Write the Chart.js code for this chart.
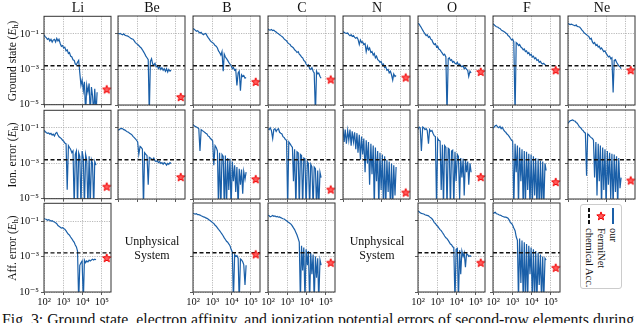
<!DOCTYPE html>
<html>
<head>
<meta charset="utf-8">
<script src="https://cdn.jsdelivr.net/npm/chart.js@4.4.1/dist/chart.umd.min.js"></script>
<style>
  html, body { margin: 0; padding: 0; background: #fff; }
  #fig { position: relative; width: 640px; height: 323px; overflow: hidden; font-family: 'Liberation Serif', 'DejaVu Serif', serif; color: #111; }
  #fig canvas { position: absolute; }
  .title { position: absolute; top: 0; font-size: 14px; line-height: 16px; transform: translateX(-50%); }
  .rowlab { position: absolute; font-size: 11.5px; white-space: nowrap; transform: translate(-50%, -50%) rotate(-90deg); }
  .rowlab sub { font-size: 8px; vertical-align: -2px; }
  .unphys { position: absolute; font-size: 12px; line-height: 14px; text-align: center; white-space: nowrap; transform: translate(-50%, -50%); }
  #legend { position: absolute; left: 580px; top: 204px; width: 42px; height: 85px; border: 1px solid #ccc; border-radius: 3px; box-sizing: border-box; }
  .legtxt { position: absolute; font-size: 10.5px; line-height: 12px; white-space: nowrap; transform-origin: 0 0; transform: rotate(90deg); }
  #caption { position: absolute; left: 2px; top: 312px; font-size: 15.8px; line-height: 16px; white-space: nowrap; }
</style>
</head>
<body>
<div id="fig">
  <div id="legend">
    <div style="position:absolute;left:31px;top:3px;width:1.5px;height:16px;background:#1a5fa8"></div>
    <canvas id="legStar" width="12" height="12" style="left:14px;top:5px"></canvas>
    <div style="position:absolute;left:7px;top:3px;width:1.5px;height:16px;background:repeating-linear-gradient(to bottom,#111 0 4px,transparent 4px 6px)"></div>
    <span class="legtxt" style="left:38px;top:23px">our</span>
    <span class="legtxt" style="left:26px;top:23px">FermiNet</span>
    <span class="legtxt" style="left:14px;top:23px">chemical Acc.</span>
  </div>
  <div id="caption">Fig. 3: Ground state, electron affinity, and ionization potential errors of second-row elements during</div>
</div>
<script>
// training steps shared by all curves
const steps = [100, 115, 130, 150, 175, 200, 230, 265, 300, 350, 400, 460, 530, 600, 700, 800, 920, 1050, 1200, 1400,
  1600, 1850, 2100, 2400, 2800, 3200, 3700, 4200, 4800, 5500, 6300, 7200, 8300, 9500, 11000, 12500, 14500, 16500, 19000, 22000,
  25000, 29000, 33000, 38000, 43000, 50000, 57000];

const elements = ['Li', 'Be', 'B', 'C', 'N', 'O', 'F', 'Ne'];
const rowNames = ['Ground state', 'Ion. error', 'Aff. error'];
const xTicks = [1e2, 1e3, 1e4, 1e5];
const xTickLabels = ['10²', '10³', '10⁴', '10⁵'];
const yTicks = [1e-5, 1e-3, 1e-1];
const yTickLabels = ['10⁻⁵', '10⁻³', '10⁻¹'];
const chemAcc = 1.6e-3;
const fermiStep = 1.8e5;

// ground state error (Eh)
const liGround = [8.9e-2,7.1e-2,6.3e-2,5e-2,5.6e-2,4e-2,5e-2,3.5e-2,4.5e-2,5e-2,3.5e-2,5.6e-2,4e-2,5e-2,2.8e-2,2e-2,2.2e-2,1.6e-2,1.8e-2,1.1e-2,
  1.26e-2,7.9e-3,8.9e-3,5.6e-3,5e-3,3.5e-3,3.2e-3,2e-3,1.8e-3,2.5e-3,3.2e-3,6.3e-4,1.26e-4,2.5e-4,6.3e-5,2e-4,3e-6,1.26e-4,5e-5,1.6e-4,
  3e-6,1e-4,3.2e-5,3e-6,7.9e-5,3e-6,5e-5];
const beGround = [1.05e-1,1e-1,1.05e-1,9.5e-2,8.9e-2,1e-1,8.3e-2,7.9e-2,7.6e-2,7.1e-2,6.3e-2,5.6e-2,5.2e-2,5e-2,4e-2,3.2e-2,2.8e-2,2.5e-2,2.2e-2,1.8e-2,
  1.6e-2,1.26e-2,1e-2,7.9e-3,5.6e-3,4.5e-3,3.5e-3,3e-6,2.8e-3,4e-3,2e-3,1.8e-3,2.2e-3,1.4e-3,1.6e-3,1.1e-3,1.4e-3,1e-3,1.26e-3,8.9e-4,
  1.1e-3,7.9e-4,1.1e-3,7.1e-4,1e-3,7.9e-4,8.9e-4];
const bGround = [2e-1,1.8e-1,1.6e-1,1.4e-1,1.5e-1,1.26e-1,1.1e-1,1.2e-1,1e-1,8.9e-2,1e-1,1.05e-1,7.9e-2,6.3e-2,5e-2,4e-2,3.5e-2,3.2e-2,2.8e-2,2.2e-2,
  2e-2,1.6e-2,1.1e-2,8.9e-3,6.3e-3,1e-2,7.9e-4,7.1e-3,5e-3,4e-3,3.2e-3,2.5e-3,2e-3,1.6e-3,1.1e-3,1.26e-3,8.9e-4,1e-3,1.26e-4,6.3e-4,
  7.9e-4,6.3e-5,5e-4,4e-4,4.5e-4,3.2e-4,3.5e-4];
const cGround = [1.8e-1,1.66e-1,1.6e-1,1.74e-1,1.5e-1,1.6e-1,1.4e-1,1.26e-1,1.1e-1,1e-1,8.9e-2,7.9e-2,7.1e-2,6.3e-2,5e-2,4.5e-2,4e-2,3.2e-2,2.8e-2,2.5e-2,
  2e-2,1.8e-2,1.6e-2,1.26e-2,1.1e-2,8.9e-3,1e-2,7.1e-3,6.3e-3,5e-3,4.5e-3,3.2e-3,2.8e-3,2e-3,1.6e-3,1.8e-3,1.1e-3,1e-3,1.26e-3,7.9e-4,
  6.3e-4,3e-6,7.9e-4,5.6e-4,6.3e-4,4e-4,3.2e-4];
const nGround = [1.3e-1,1.2e-1,1.1e-1,1.05e-1,1.1e-1,8.9e-2,7.9e-2,8.9e-2,7.1e-2,7.9e-2,6.3e-2,5.6e-2,6.3e-2,5e-2,2.5e-2,4.5e-2,3.2e-2,3.5e-2,2.5e-2,2.8e-2,
  1e-2,2e-2,1.26e-2,1.6e-2,8.9e-3,1e-2,6.3e-3,7.9e-3,4.5e-3,5.6e-3,3.5e-3,3.2e-3,2.5e-3,2.8e-3,1.8e-3,2e-3,1.26e-3,1.4e-3,8.9e-4,1e-3,
  6.3e-4,7.9e-4,5e-4,2.5e-4,5.6e-4,4e-4,4.5e-4];
const oGround = [4e-1,3.5e-1,2.8e-1,2.2e-1,1.6e-1,1.26e-1,1e-1,7.9e-2,8.9e-2,6.3e-2,7.1e-2,5e-2,4.5e-2,3.2e-2,2.5e-2,2.8e-2,1.8e-2,2e-2,1.4e-2,1.26e-2,
  1e-2,7.9e-3,6.3e-3,7.1e-3,5e-3,3e-6,4e-3,4.5e-3,3.2e-3,3.5e-3,2.5e-3,2.8e-3,2.2e-3,2e-3,2.5e-3,1.8e-3,2e-3,1.6e-3,1.4e-3,1.6e-3,
  1.1e-3,1.26e-3,1e-3,8.9e-4,4e-4,7.9e-4,6.3e-4];
const fGround = [3.5e-1,3.2e-1,2.8e-1,2.5e-1,2.4e-1,2.1e-1,2e-1,1.66e-1,1.5e-1,1.4e-1,1.26e-1,1.1e-1,1e-1,7.9e-2,7.1e-2,5.6e-2,4.5e-2,5e-2,3.5e-2,3e-6,
  3.2e-2,2.8e-2,2.2e-2,2.5e-2,1.8e-2,1.6e-2,1.26e-2,1.4e-2,1e-2,1.1e-2,7.9e-3,8.9e-3,6.3e-3,7.1e-3,5e-3,5.6e-3,4e-3,4.5e-3,3.2e-3,3.5e-3,
  2.5e-3,2.8e-3,2.2e-3,2e-3,2.2e-3,1.8e-3,1.66e-3];
const neGround = [3.9e-1,3.5e-1,3.3e-1,3.5e-1,3.2e-1,3e-1,2.8e-1,3.2e-1,2.6e-1,2.5e-1,2.4e-1,2e-1,1.6e-1,1.4e-1,1.1e-1,1e-1,8.9e-2,7.9e-2,7.1e-2,5e-2,
  5.6e-2,3.5e-2,2.8e-2,3.2e-2,2.2e-2,2.5e-2,1.8e-2,2e-2,1.4e-2,1.6e-2,1.26e-2,1e-2,1.1e-2,7.9e-3,6.3e-3,5e-3,5.6e-3,4e-3,4.5e-3,5e-5,
  3.2e-3,3.5e-3,2.5e-3,2e-3,1.6e-3,1.4e-3,1.1e-3];

// ionization potential error (Eh)
const liIon = [7.4e-2,6.3e-2,5.6e-2,5e-2,5.2e-2,4.5e-2,5e-2,4e-2,4.5e-2,3.5e-2,5e-2,5.6e-2,4e-2,3.2e-2,2.8e-2,2.5e-2,2e-2,1.8e-2,1.4e-2,1.26e-2,
  3.2e-5,1e-2,7.9e-3,6.3e-3,4e-3,5e-3,3e-6,3.2e-3,5e-3,3e-6,4e-3,2.5e-3,3e-6,5e-3,2e-3,3e-6,3.2e-3,1.6e-3,3e-6,2.5e-3,
  3e-6,1.6e-3,1e-3,3e-6,1.26e-3,7.9e-4];
const beIon = [7.4e-2,7.9e-2,8.9e-2,9.3e-2,8.9e-2,7.9e-2,7.4e-2,6.6e-2,6e-2,5.6e-2,5e-2,4.5e-2,4e-2,3.3e-2,2.8e-2,2.4e-2,2e-2,1.6e-2,3.2e-3,8.9e-3,
  7.9e-3,6.3e-3,3e-6,4e-3,3.2e-3,2.8e-3,6.3e-5,2.2e-3,2e-3,1.8e-3,1.6e-3,2e-3,1.4e-3,1.26e-3,1.4e-3,1.1e-3,1.26e-3,1e-3,1.1e-3,8.9e-4,
  1.1e-3,1e-3,7.9e-4,1e-3,8.9e-4,1.1e-3,1e-3];
const bIon = [1.55e-1,1.3e-1,1.2e-1,1.1e-1,1e-1,8.9e-2,5e-3,7.9e-2,7.1e-2,6.3e-2,5.6e-2,5e-2,4.5e-2,3.5e-2,3.2e-2,2.5e-2,2.2e-2,1.8e-2,7.9e-4,1e-2,
  7.9e-3,5e-3,3e-6,4e-3,3e-6,3.2e-3,2.5e-3,3e-6,2.8e-3,3e-6,2e-3,3.2e-5,1.8e-3,3e-6,1.26e-3,1e-4,7.9e-4,2.5e-5,6.3e-4,3e-6,
  5e-4,6.3e-5,4.5e-4,2e-5,3.5e-4,1.26e-4,3.2e-4];
const cIon = [8.9e-2,7.9e-2,1e-1,7.1e-2,2.5e-2,7.9e-2,8.9e-2,6.3e-2,7.9e-2,8.9e-2,5.6e-2,5e-2,4.5e-2,3.2e-2,2.8e-2,2.2e-2,2e-2,3e-6,1.6e-2,1.26e-2,
  1e-2,7.9e-3,1e-4,6.3e-3,3e-6,4.5e-3,4e-3,3e-6,3.2e-3,2.8e-3,3e-6,2e-3,1.8e-3,3e-6,1.26e-3,1e-3,3e-6,8.9e-4,6.3e-4,3e-6,
  6.3e-4,5e-4,3e-6,4e-4,3e-6,3.2e-4,1.6e-4];
const nIon = [9.3e-2,1.6e-2,7.9e-2,1.26e-2,7.1e-2,2e-2,7.9e-2,1e-2,6.3e-2,1.6e-2,5.6e-2,6.3e-3,5e-2,4e-3,4e-2,1.6e-3,3.2e-2,3.2e-3,2.5e-2,3.2e-4,
  2e-2,1e-3,1.6e-2,6.3e-5,1.26e-2,2.5e-4,1e-2,3e-6,7.9e-3,1e-4,5e-3,3e-6,4e-3,3.2e-5,3.2e-3,3e-6,2.5e-3,3e-6,1.6e-3,2.5e-5,
  1.26e-3,3e-6,1e-3,3e-6,7.9e-4,1.6e-5,6.3e-4];
const oIon = [7.9e-2,1.1e-1,1e-1,5e-3,1.1e-1,1e-1,7.9e-2,8.9e-2,7.1e-2,1.26e-2,7.9e-2,6.3e-2,7.1e-2,5e-2,3.5e-2,3.2e-2,3e-6,2.5e-2,2e-2,1.8e-2,
  3.2e-5,1.1e-2,3e-6,1e-2,7.9e-3,3e-6,7.1e-3,6.3e-3,3e-6,5e-3,5.6e-3,3e-6,4.5e-3,1e-4,3.2e-3,2.5e-3,1e-5,2e-3,1.6e-4,1.8e-3,
  1.6e-5,1.6e-3,3.2e-4,1.26e-3,6.3e-5,1e-3,3.2e-4];
const fIon = [9.3e-2,1.1e-1,1.3e-1,1.4e-1,1.1e-1,1e-1,1.2e-1,8.9e-2,1.05e-1,7.9e-2,6.3e-2,5.6e-2,4.5e-2,4e-2,3.2e-2,2.5e-2,2e-2,1.8e-2,3e-6,1.26e-2,
  3.2e-4,1e-2,3e-6,7.9e-3,1e-4,6.3e-3,3e-6,5e-3,3e-6,4.5e-3,3.2e-5,3.5e-3,3e-6,3.2e-3,3e-6,2.5e-3,1.6e-5,2e-3,3e-6,1.8e-3,
  3e-6,1.4e-3,3e-6,1.26e-3,3e-6,1e-3,4e-4];
const neIon = [1.74e-1,2.2e-1,2.5e-1,2.6e-1,2.8e-1,2.5e-1,2.4e-1,2e-1,1.8e-1,1.4e-1,1.1e-1,1e-1,7.9e-2,7.1e-2,5.6e-2,5e-2,2e-4,4.5e-2,4e-2,3.2e-2,
  2.8e-2,2.5e-2,2e-2,1.6e-4,1.6e-2,1.6e-5,1.26e-2,1e-4,1e-2,3e-6,7.9e-3,3.2e-5,6.3e-3,3e-6,5e-3,6.3e-5,4e-3,1e-5,3.5e-3,3e-6,
  3.2e-3,2.5e-5,2.5e-3,3e-6,2e-3,4e-5,1.6e-4];

// electron affinity error (Eh)
const liAff = [1.38e-1,1.3e-1,1.26e-1,1.1e-1,1.2e-1,1.1e-1,1e-1,1.05e-1,9.5e-2,8.9e-2,7.9e-2,7.1e-2,5.6e-2,5e-2,4.5e-2,4e-2,4.2e-2,3.8e-2,3.5e-2,2.8e-2,
  2.2e-2,1.8e-2,1.6e-2,1.26e-2,1e-2,7.9e-3,6.3e-3,4.5e-3,3.5e-3,2e-3,3e-6,3.2e-4,4.5e-4,5.6e-4,3e-6,6.3e-4,4.5e-4,5.6e-4,5e-4,6.3e-4,
  5.6e-4,6.3e-4,7.1e-4,6.3e-4,7.1e-4,6.6e-4];
const bAff = [2.6e-1,2.5e-1,2.4e-1,2.5e-1,2.2e-1,2.2e-1,2.1e-1,1.9e-1,1.8e-1,1.66e-1,1.6e-1,1.45e-1,1.38e-1,1.26e-1,1.1e-1,1e-1,8.9e-2,7.9e-2,7.1e-2,5.6e-2,
  5e-2,4e-2,3.3e-2,2.8e-2,2.2e-2,1.8e-2,1.4e-2,1.1e-2,8.9e-3,7.1e-3,6.3e-3,5e-3,4e-3,2.5e-3,1.8e-3,3e-6,1.26e-3,1e-3,1.1e-3,7.9e-4,
  3e-6,7.1e-4,6.3e-4,5e-4,3.5e-4,2.5e-5,3.2e-4];
const cAff = [2.1e-1,1.9e-1,1.66e-1,1.8e-1,2e-1,1.8e-1,1.9e-1,1.66e-1,1.74e-1,1.6e-1,1.66e-1,1.5e-1,1.4e-1,1.3e-1,1.26e-1,1.1e-1,1e-1,8.9e-2,7.9e-2,7.1e-2,
  6.3e-2,5e-2,4e-2,3.2e-2,2.2e-2,1.6e-2,1e-2,6.3e-3,3e-6,4e-3,1.6e-4,3.2e-3,3e-6,2.5e-3,3.2e-4,2e-3,3e-6,1.6e-3,1e-4,1.26e-3,
  3e-6,1e-3,6.3e-5,7.9e-4,3e-6,6.3e-4,3.2e-4];
const oAff = [3.5e-1,3.2e-1,2.8e-1,2.6e-1,2.5e-1,2.4e-1,2.2e-1,2.1e-1,2e-1,1.9e-1,1.66e-1,1.5e-1,1.3e-1,1.1e-1,7.9e-2,7.1e-2,5.6e-2,5e-2,4e-2,3.2e-2,
  2.8e-2,2.2e-2,1.8e-2,1.4e-2,1.1e-2,1e-2,7.9e-3,6.3e-3,5e-3,4.5e-3,3.5e-3,3.2e-3,3e-6,2.5e-3,2.8e-3,3e-6,2.2e-3,1e-4,2e-3,1e-3,
  1.6e-3,2.5e-4,1.4e-3,1.26e-3,1e-3,1.1e-3,1e-3];
const fAff = [2.6e-1,2.8e-1,3e-1,2.5e-1,2.4e-1,2.2e-1,2.1e-1,2e-1,1.8e-1,1.7e-1,1.6e-1,1.6e-1,1.5e-1,1.4e-1,1.1e-1,7.9e-2,7.1e-2,5.6e-2,4e-2,2.8e-2,
  1.26e-2,7.9e-3,3e-6,1e-2,3.2e-5,7.9e-3,3e-6,6.3e-3,3e-6,5e-3,3e-6,4e-3,1e-4,3.2e-3,3e-6,2.5e-3,3e-6,2e-3,3e-6,1.6e-3,
  2.5e-5,1.26e-3,3e-6,1e-3,3e-6,7.9e-4,6.3e-4];

// FermiNet reference errors (one per element, null = no panel)
const fermiGround = [7.4e-5, 2.8e-5, 2e-4, 2.7e-4, 3.5e-4, 7.3e-4, 9e-4, 9e-4];
const fermiIon = [4.8e-5, 1.7e-4, 1.3e-4, 3.4e-5, 2.3e-5, 1.7e-4, 9e-5, 1.1e-4];
const fermiAff = [8.3e-4, null, 1.3e-3, 4.4e-4, null, 4.4e-4, 2.3e-4, null];

const groundRows = [liGround, beGround, bGround, cGround, nGround, oGround, fGround, neGround];
const ionRows = [liIon, beIon, bIon, cIon, nIon, oIon, fIon, neIon];
const affRows = [liAff, null, bAff, cAff, null, oAff, fAff, null];

const blue = '#1a5fa8';
const xMin = 100, xMax = 3e5;
const colLeft = [44, 118, 193, 268, 343, 418, 493, 568];
const rowTop = [16, 110, 203];
const panelW = 68, panelH = 89;
const fig = document.getElementById('fig');

function drawStar(ctx, cx, cy, R, r) {
    ctx.beginPath();
    for (let k = 0; k < 10; k++) {
        const rad = k % 2 === 0 ? R : r;
        const a = -Math.PI / 2 + k * Math.PI / 5;
        ctx.lineTo(cx + rad * Math.cos(a), cy + rad * Math.sin(a));
    }
    ctx.closePath();
    ctx.fillStyle = '#ff5a5a';
    ctx.fill();
    ctx.strokeStyle = '#f00000';
    ctx.lineWidth = 1;
    ctx.stroke();
}

const starImg = document.createElement('canvas');
starImg.width = 12;
starImg.height = 12;
drawStar(starImg.getContext('2d'), 6, 6.3, 4.4, 1.9);
drawStar(document.getElementById('legStar').getContext('2d'), 6, 6.3, 4.4, 1.9);

// box round every panel
const framePlugin = {
    id: 'frame',
    afterDraw(chart) {
        const { ctx, chartArea: a } = chart;
        ctx.save();
        ctx.strokeStyle = '#333';
        ctx.lineWidth = 1;
        ctx.strokeRect(a.left, a.top, a.right - a.left, a.bottom - a.top);
        ctx.restore();
    }
};

function makePanel(col, row, values, starValue) {
    const showX = row === 2;
    const showY = col === 0;
    const padL = showY ? 44 : 14, padR = 6, padT = 8, padB = showX ? 18 : 8;

    const canvas = document.createElement('canvas');
    canvas.width = panelW + padL + padR;
    canvas.height = panelH + padT + padB;
    canvas.style.left = (colLeft[col] - padL) + 'px';
    canvas.style.top = (rowTop[row] - padT) + 'px';
    fig.appendChild(canvas);

    const tickFont = { family: "'Liberation Serif', 'DejaVu Serif', serif", size: 10.5 };

    new Chart(canvas.getContext('2d'), {
        type: 'line',
        data: {
            datasets: [
                {
                    type: 'scatter',
                    data: [{ x: fermiStep, y: starValue }],
                    pointStyle: starImg,
                    pointRadius: 6,
                    clip: false
                },
                {
                    data: [{ x: xMin, y: chemAcc }, { x: xMax, y: chemAcc }],
                    borderColor: '#111',
                    borderWidth: 1.4,
                    borderDash: [4, 2.5],
                    pointRadius: 0
                },
                {
                    data: values.map((v, i) => ({ x: steps[i], y: v })),
                    borderColor: blue,
                    borderWidth: 1.2,
                    pointRadius: 0,
                    tension: 0
                }
            ]
        },
        options: {
            responsive: false,
            animation: false,
            events: [],
            layout: { padding: { top: padT, right: padR, left: 0, bottom: 0 } },
            plugins: { legend: { display: false }, tooltip: { enabled: false } },
            scales: {
                x: {
                    type: 'logarithmic',
                    min: xMin,
                    max: xMax,
                    afterBuildTicks: s => { s.ticks = xTicks.map(v => ({ value: v })); },
                    afterFit: s => { s.height = padB; },
                    border: { display: false, dash: [1.2, 1.2] },
                    grid: { color: '#a8a8a8', lineWidth: 0.8, tickLength: 3, tickColor: '#333', tickWidth: 0.8 },
                    ticks: {
                        display: showX,
                        autoSkip: false,
                        maxRotation: 0,
                        padding: 1,
                        color: '#111',
                        font: tickFont,
                        callback: (v, i) => xTickLabels[i]
                    }
                },
                y: {
                    type: 'logarithmic',
                    min: 1e-5,
                    max: 1,
                    afterBuildTicks: s => { s.ticks = yTicks.map(v => ({ value: v })); },
                    afterFit: s => { s.width = padL; },
                    border: { display: false, dash: [1.2, 1.2] },
                    grid: { color: '#a8a8a8', lineWidth: 0.8, tickLength: 3, tickColor: '#333', tickWidth: 0.8 },
                    ticks: {
                        display: showY,
                        autoSkip: false,
                        padding: 2,
                        color: '#111',
                        font: tickFont,
                        callback: (v, i) => yTickLabels[i]
                    }
                }
            }
        },
        plugins: [framePlugin]
    });
}

[groundRows, ionRows, affRows].forEach((rowData, row) => {
    const stars = [fermiGround, fermiIon, fermiAff][row];
    rowData.forEach((values, col) => {
        if (values) {
            makePanel(col, row, values, stars[col]);
        } else if (row === 2 && col !== 7) {
            const t = document.createElement('div');
            t.className = 'unphys';
            t.style.left = (colLeft[col] + panelW / 2) + 'px';
            t.style.top = (rowTop[row] + panelH / 2) + 'px';
            t.innerHTML = 'Unphysical<br>System';
            fig.appendChild(t);
        }
    });
});

// column titles
elements.forEach((name, col) => {
    const t = document.createElement('div');
    t.className = 'title';
    t.style.left = (colLeft[col] + panelW / 2) + 'px';
    t.textContent = name;
    fig.appendChild(t);
});

// row labels
rowNames.forEach((name, row) => {
    const t = document.createElement('div');
    t.className = 'rowlab';
    t.style.left = '13px';
    t.style.top = (rowTop[row] + panelH / 2) + 'px';
    t.innerHTML = name + ' (<i>E</i><sub>h</sub>)';
    fig.appendChild(t);
});
</script>
</body>
</html>
